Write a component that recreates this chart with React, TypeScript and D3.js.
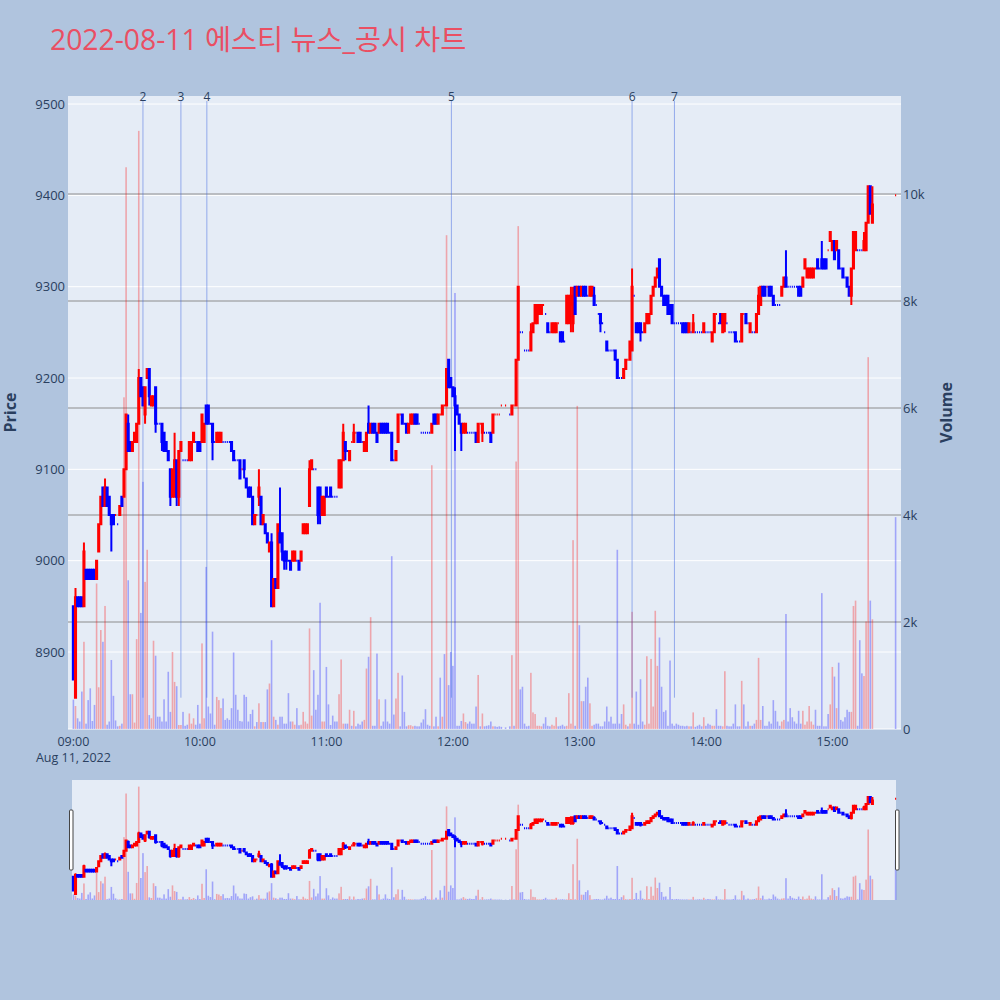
import React, { useMemo } from "react";
import * as d3 from "d3";

// [minute from 09:00, open, high, low, close, volume]
type Bar = [number, number, number, number, number, number];

const bars09: Bar[] = [
  [0,8950,8950,8870,8870,550],[1,8850,8970,8850,8960,430],[2,8960,8960,8950,8950,200],[3,8960,8960,8950,8950,140],
  [4,8960,8960,8950,8950,700],[5,8950,9020,8950,9010,1630],[6,8990,8990,8980,8980,100],[7,8990,8990,8980,8980,540],
  [8,8990,8990,8980,8980,760],[9,8990,8990,8980,8980,150],[10,8990,8990,8980,8980,450],[11,8980,9000,8980,9000,2720],
  [12,9010,9040,9010,9040,780],[13,9040,9070,9040,9070,1850],[14,9080,9080,9060,9060,1630],[15,9060,9090,9060,9080,2300],
  [16,9080,9080,9060,9060,80],[17,9070,9070,9050,9050,140],[18,9050,9050,9010,9040,1290],[19,9050,9050,9040,9040,620],
  [20,9050,9050,9050,9050,160],[21,9040,9040,9040,9040,50],[22,9050,9060,9050,9060,60],[23,9070,9070,9060,9060,100],
  [24,9070,9100,9070,9100,6200],[25,9100,9160,9100,9160,10500],[26,9150,9160,9120,9120,2780],[27,9130,9130,9120,9120,650],
  [28,9120,9130,9120,9130,650],[29,9130,9140,9130,9140,120],[30,9130,9150,9130,9150,1680],[31,9150,9210,9150,9200,11180],
  [32,9200,9200,9180,9180,2170],[33,9190,9190,9170,9170,4620],[34,9160,9190,9150,9190,2750],[35,9200,9210,9200,9210,3350],
  [36,9210,9210,9170,9180,260],[37,9170,9180,9170,9180,200],[38,9170,9180,9170,9180,1650],[39,9190,9190,9140,9150,1370],
  [40,9150,9150,9150,9150,230],[41,9150,9150,9150,9150,230],[42,9150,9150,9120,9130,140],[43,9140,9140,9120,9120,555],
  [44,9130,9130,9120,9120,140],[45,9120,9120,9110,9110,1070],[46,9100,9100,9060,9070,320],[47,9070,9100,9070,9100,1440],
  [48,9070,9140,9070,9110,880],[49,9110,9110,9060,9070,800],[50,9070,9120,9060,9120,75],[51,9120,9130,9120,9130,75],
  [52,9110,9110,9110,9110,320],[53,9110,9110,9110,9110,60],[54,9110,9110,9110,9110,80],[55,9110,9130,9110,9130,290],
  [56,9110,9130,9110,9130,100],[57,9130,9140,9130,9140,200],[58,9130,9130,9130,9130,80],[59,9130,9130,9120,9120,450],
];

const bars10: Bar[] = [
  [60,9130,9130,9120,9120,100],[61,9130,9160,9130,9160,1600],[62,9130,9150,9130,9150,200],[63,9170,9170,9150,9150,3030],
  [64,9170,9170,9150,9150,420],[65,9150,9150,9150,9150,290],[66,9150,9150,9110,9130,1820],[67,9130,9130,9130,9130,80],
  [68,9130,9140,9130,9140,600],[69,9130,9140,9130,9140,540],[70,9130,9140,9130,9140,390],[71,9130,9130,9130,9130,570],
  [72,9130,9130,9130,9130,170],[73,9130,9130,9130,9130,200],[74,9130,9130,9130,9130,170],[75,9130,9130,9120,9120,390],
  [76,9120,9120,9110,9110,1430],[77,9110,9110,9110,9110,640],[78,9110,9110,9110,9110,360],[79,9110,9110,9090,9090,150],
  [80,9100,9100,9100,9100,140],[81,9110,9110,9090,9100,640],[82,9090,9090,9080,9080,600],[83,9080,9080,9070,9070,140],
  [84,9080,9080,9070,9070,280],[85,9070,9070,9040,9040,360],[86,9040,9050,9040,9050,50],[87,9050,9050,9050,9050,130],
  [88,9070,9100,9060,9080,480],[89,9070,9070,9040,9040,130],[90,9040,9050,9040,9050,130],[91,9040,9040,9030,9030,130],
  [92,9030,9030,9020,9020,740],[93,9010,9020,9010,9020,850],[94,9020,9030,8950,8950,1660],[95,8950,8980,8950,8980,230],
  [96,8980,8980,8970,8970,170],[97,8970,9040,8970,9040,80],[98,9030,9080,9020,9020,230],[99,9030,9030,9000,9010,230],
  [100,9010,9010,8990,9000,100],[101,9010,9010,8990,9000,100],[102,9000,9000,9000,9000,670],[103,9000,9000,8990,8990,140],
  [104,9000,9010,9000,9010,140],[105,9000,9010,9000,9010,80],[106,9000,9000,9000,9000,390],[107,9000,9000,8990,8990,70],
  [108,9000,9010,9000,9010,80],[109,9030,9040,9030,9040,320],[110,9030,9040,9030,9040,140],[111,9030,9040,9030,9040,100],
  [112,9060,9110,9060,9100,1880],[113,9100,9110,9100,9110,250],[114,9100,9100,9100,9100,1100],[115,9100,9100,9100,9100,360],
  [116,9080,9080,9040,9050,640],[117,9080,9080,9040,9050,2360],[118,9050,9070,9050,9070,140],[119,9050,9070,9050,9070,140],
];

const bars11: Bar[] = [
  [120,9080,9080,9070,9070,1160],[121,9070,9070,9070,9070,460],[122,9080,9080,9070,9070,75],[123,9070,9070,9070,9070,250],
  [124,9070,9070,9070,9070,140],[125,9070,9070,9070,9070,140],[126,9080,9110,9080,9110,650],[127,9080,9110,9080,9110,1300],
  [128,9110,9150,9110,9140,100],[129,9130,9130,9110,9120,100],[130,9120,9120,9120,9120,100],[131,9110,9120,9110,9120,360],
  [132,9130,9130,9130,9130,60],[133,9130,9150,9130,9140,340],[134,9140,9140,9140,9140,50],[135,9140,9140,9130,9130,100],
  [136,9140,9140,9130,9130,80],[137,9130,9130,9130,9130,140],[138,9120,9130,9120,9130,170],[139,9120,9140,9120,9140,1130],
  [140,9150,9170,9140,9140,1350],[141,9140,9150,9140,9150,2090],[142,9150,9150,9140,9140,60],[143,9150,9150,9140,9140,60],
  [144,9140,9140,9130,9130,1410],[145,9140,9150,9140,9150,555],[146,9150,9150,9140,9140,60],[147,9150,9150,9140,9140,140],
  [148,9150,9150,9140,9140,555],[149,9150,9150,9140,9140,140],[150,9140,9140,9140,9140,100],[151,9140,9140,9110,9110,3230],
  [152,9110,9110,9110,9110,270],[153,9110,9120,9110,9120,570],[154,9130,9160,9130,9160,1050],[155,9160,9160,9160,9160,50],
  [156,9160,9160,9150,9150,1000],[157,9150,9150,9150,9150,320],[158,9150,9150,9140,9140,50],[159,9140,9150,9140,9150,70],
  [160,9150,9160,9150,9160,70],[161,9150,9160,9150,9160,50],[162,9160,9160,9150,9150,60],[163,9160,9160,9150,9150,50],
  [164,9150,9150,9150,9150,50],[165,9140,9140,9140,9140,120],[166,9140,9140,9140,9140,180],[167,9140,9140,9140,9140,370],
  [168,9140,9140,9140,9140,80],[169,9140,9140,9140,9140,60],[170,9140,9150,9140,9150,4930],[171,9160,9160,9150,9150,50],
  [172,9160,9160,9150,9150,230],[173,9150,9160,9150,9160,50],[174,9160,9160,9160,9160,960],[175,9160,9170,9160,9170,230],
  [176,9170,9170,9170,9170,1400],[177,9170,9210,9170,9210,9230],[178,9220,9220,9190,9190,820],[179,9200,9200,9190,9190,1440],
];

const bars12: Bar[] = [
  [180,9190,9190,9180,9180,1180],[181,9180,9190,9120,9170,8150],[182,9170,9170,9160,9160,60],[183,9160,9160,9150,9150,60],
  [184,9150,9150,9120,9140,150],[185,9140,9150,9140,9150,290],[186,9140,9150,9140,9150,130],[187,9140,9140,9140,9140,100],
  [188,9140,9140,9140,9140,140],[189,9140,9140,9140,9140,100],[190,9140,9140,9140,9140,100],[191,9140,9140,9130,9130,420],
  [192,9130,9150,9130,9150,1010],[193,9150,9150,9150,9150,50],[194,9140,9150,9130,9150,290],[195,9140,9140,9140,9140,50],
  [196,9140,9140,9140,9140,60],[197,9140,9140,9140,9140,70],[198,9140,9140,9130,9130,140],[199,9140,9160,9140,9160,50],
  [200,9160,9160,9160,9160,50],[201,9160,9160,9160,9160,40],[202,9160,9160,9160,9160,50],[203,9170,9170,9170,9170,40],
  [205,9170,9170,9170,9170,30],[207,9160,9160,9160,9160,50],[208,9160,9170,9160,9170,1380],[209,9170,9170,9170,9170,60],
  [210,9170,9220,9170,9220,5000],[211,9220,9300,9220,9300,9400],[212,9250,9250,9250,9250,740],[213,9250,9250,9250,9250,790],
  [214,9230,9230,9230,9230,100],[215,9230,9230,9230,9230,50],[216,9230,9230,9230,9230,60],[217,9230,9260,9230,9250,1050],
  [218,9250,9260,9250,9260,310],[219,9260,9280,9260,9280,280],[220,9260,9280,9260,9280,60],[221,9270,9280,9270,9280,60],
  [222,9270,9280,9270,9280,50],[223,9280,9280,9280,9280,100],[224,9270,9270,9270,9270,220],[225,9260,9260,9250,9250,60],
  [226,9250,9250,9250,9250,50],[227,9250,9260,9250,9260,80],[228,9250,9260,9250,9260,60],[229,9250,9260,9250,9260,220],
  [230,9260,9260,9260,9260,50],[231,9250,9250,9240,9240,60],[232,9250,9250,9240,9240,80],[233,9240,9240,9240,9240,50],
  [234,9260,9290,9260,9290,60],[235,9260,9290,9260,9290,670],[236,9280,9300,9250,9290,100],[237,9260,9300,9250,9290,3530],
  [238,9300,9300,9270,9270,60],[239,9290,9300,9290,9300,6040],
];

const bars13: Bar[] = [
  [240,9300,9300,9290,9290,1940],[241,9290,9300,9290,9300,520],[242,9300,9300,9290,9290,520],[243,9300,9300,9290,9290,790],
  [244,9290,9290,9290,9290,960],[245,9290,9300,9290,9300,480],[246,9290,9300,9290,9300,60],[247,9290,9300,9280,9280,80],
  [248,9280,9280,9280,9280,100],[249,9270,9270,9270,9270,100],[250,9270,9270,9250,9260,50],[251,9260,9260,9260,9260,50],
  [252,9250,9250,9250,9250,140],[253,9240,9240,9230,9230,420],[254,9230,9230,9230,9230,140],[255,9230,9230,9230,9230,230],
  [256,9230,9230,9230,9230,100],[257,9230,9230,9220,9220,100],[258,9220,9220,9200,9200,3350],[259,9200,9200,9200,9200,100],
  [260,9200,9200,9200,9200,280],[261,9200,9210,9200,9210,460],[262,9210,9220,9210,9220,80],[263,9220,9220,9220,9220,50],
  [264,9220,9240,9220,9240,100],[265,9230,9320,9230,9300,2190],[266,9290,9290,9290,9290,100],[267,9260,9260,9250,9250,700],
  [268,9260,9260,9250,9250,80],[269,9260,9260,9240,9250,930],[270,9250,9250,9250,9250,140],[271,9250,9260,9250,9260,80],
  [272,9260,9270,9260,9270,1360],[273,9260,9270,9260,9270,100],[274,9270,9290,9270,9290,1310],[275,9290,9300,9290,9300,420],
  [276,9300,9310,9300,9310,2210],[277,9310,9320,9310,9320,1180],[278,9330,9330,9300,9300,1710],[279,9300,9300,9290,9290,790],
  [280,9290,9290,9280,9280,320],[281,9290,9290,9280,9280,350],[282,9290,9290,9270,9270,60],[283,9280,9280,9270,9270,1280],
  [284,9280,9280,9260,9260,100],[285,9260,9260,9260,9260,60],[286,9260,9260,9260,9260,100],[287,9260,9260,9260,9260,80],
  [288,9260,9260,9260,9260,60],[289,9260,9260,9250,9250,60],[290,9260,9260,9250,9250,50],[291,9260,9260,9250,9250,60],
  [292,9250,9260,9250,9260,50],[293,9250,9250,9250,9250,50],[294,9250,9270,9250,9260,310],[295,9250,9250,9250,9250,40],
  [296,9250,9250,9250,9250,60],[297,9250,9250,9250,9250,80],[298,9250,9250,9250,9250,50],[299,9250,9260,9250,9260,220],
];

const bars14: Bar[] = [
  [300,9250,9250,9250,9250,60],[301,9250,9250,9250,9250,100],[302,9250,9250,9250,9250,80],[303,9240,9250,9240,9250,60],
  [304,9250,9270,9250,9270,60],[305,9270,9270,9270,9270,370],[306,9260,9260,9260,9260,60],[307,9270,9270,9260,9260,60],
  [308,9250,9270,9250,9270,50],[309,9260,9270,9250,9270,1080],[310,9260,9260,9260,9260,60],[311,9250,9250,9250,9250,50],
  [312,9250,9250,9250,9250,50],[313,9250,9250,9250,9250,100],[314,9250,9250,9240,9240,460],[315,9240,9240,9240,9240,50],
  [316,9240,9240,9240,9240,50],[317,9240,9270,9240,9270,900],[318,9270,9270,9270,9270,460],[319,9270,9270,9260,9260,50],
  [320,9260,9260,9260,9260,140],[321,9250,9260,9250,9260,60],[322,9250,9250,9250,9250,60],[323,9250,9250,9250,9250,100],
  [324,9250,9270,9250,9270,170],[325,9270,9300,9270,9290,1330],[326,9280,9300,9280,9300,170],[327,9300,9300,9290,9290,430],
  [328,9300,9300,9290,9290,60],[329,9300,9300,9300,9300,60],[330,9300,9300,9290,9290,140],[331,9300,9300,9290,9290,100],
  [332,9290,9290,9280,9280,540],[333,9280,9280,9280,9280,340],[334,9280,9280,9280,9280,140],[335,9280,9280,9280,9280,60],
  [336,9290,9300,9290,9300,140],[337,9300,9310,9300,9310,170],[338,9310,9340,9300,9300,2150],[339,9300,9300,9300,9300,140],
  [340,9300,9300,9300,9300,390],[341,9300,9300,9300,9300,220],[342,9300,9300,9300,9300,140],[343,9300,9300,9300,9300,100],
  [344,9300,9300,9290,9290,340],[345,9300,9300,9290,9290,100],[346,9300,9310,9300,9310,340],[347,9320,9330,9320,9330,80],
  [348,9310,9320,9310,9320,140],[349,9310,9320,9310,9320,430],[350,9310,9320,9310,9320,140],[351,9310,9320,9310,9320,80],
  [352,9320,9320,9320,9320,360],[353,9330,9330,9320,9320,60],[354,9320,9320,9320,9320,60],[355,9330,9350,9320,9320,2540],
  [356,9330,9330,9320,9320,50],[357,9330,9330,9320,9320,50],[358,9340,9340,9340,9340,280],[359,9350,9360,9350,9360,460],
];

const bars15: Bar[] = [
  [360,9340,9350,9340,9350,1160],[361,9350,9350,9330,9330,980],[362,9340,9350,9340,9350,390],[363,9340,9340,9320,9320,1240],
  [364,9320,9320,9320,9320,170],[365,9320,9320,9310,9310,140],[366,9310,9310,9310,9310,220],[367,9310,9310,9300,9300,360],
  [368,9300,9300,9290,9290,320],[369,9290,9320,9280,9320,320],[370,9320,9360,9320,9360,2300],[371,9340,9360,9340,9360,2400],
  [372,9340,9340,9340,9340,60],[373,9340,9340,9340,9340,1660],[374,9340,9340,9340,9340,1040],[375,9340,9360,9340,9350,990],
  [376,9340,9370,9340,9370,2010],[377,9370,9410,9370,9410,6950],[378,9410,9410,9380,9380,2400],[379,9370,9410,9370,9390,2050],
  [390,9400,9400,9400,9400,3960],
];

const priceTicks = [8900, 9000, 9100, 9200, 9300, 9400, 9500];
const volumeTicks = [0, 2000, 4000, 6000, 8000, 10000];
const volumeTickLabels = ["0", "2k", "4k", "6k", "8k", "10k"];
const timeTicks = [0, 60, 120, 180, 240, 300, 360];
const timeTickLabels = ["09:00", "10:00", "11:00", "12:00", "13:00", "14:00", "15:00"];
const eventMinutes = [33, 51, 63.3, 179.3, 265, 285.1];
const eventLabels = ["2", "3", "4", "5", "6", "7"];

const TITLE = "2022-08-11 에스티 뉴스_공시 차트";
const FONT = "'Open Sans', 'Noto Sans CJK KR', sans-serif";
const UP = "#ff0000";
const DOWN = "#0000ff";

export default function App() {
  const allBars = useMemo(() => [...bars09, ...bars10, ...bars11, ...bars12, ...bars13, ...bars14, ...bars15], []);

  // plotly-style direction (doji follows change from previous close)
  const dirs = useMemo(() => {
    let inc = true;
    let prev: number | null = null;
    return allBars.map(([, o, , , c]) => {
      if (c === o) {
        if (prev !== null && c !== prev) inc = c > prev;
      } else inc = c > o;
      prev = c;
      return inc;
    });
  }, [allBars]);

  const PL = 68, PR = 901, PT = 96, PB = 729;
  const x = d3.scaleLinear().domain([-2.56, 392.56]).range([PL, PR]);
  const yP = d3.scaleLinear().domain([8815.7, 9508.8]).range([PB, PT]);
  const yV = d3.scaleLinear().domain([0, 11832]).range([PB, PT]);
  const RS = { l: 72, r: 896, t: 780, b: 900 };
  const yPm = yP.copy().range([RS.b, RS.t]);
  const yVm = yV.copy().range([RS.b, RS.t]);

  const boxW = 1.1;
  const volW = 1.6;

  const candlePath = (m: number, o: number, h: number, l: number, c: number, ys: d3.ScaleLinear<number, number>) => {
    const xc = x(m);
    const yo = ys(o), yc = ys(c), yh = ys(h), yl = ys(l);
    const top = Math.min(yo, yc), bot = Math.max(yo, yc);
    return `M${xc - boxW / 2},${yo}V${yc}H${xc + boxW / 2}V${yo}Z M${xc},${top}V${yh} M${xc},${bot}V${yl}`;
  };

  const volColor = (o: number, c: number) => (c > o ? "rgba(255,0,0,0.3)" : "rgba(0,0,255,0.3)");

  return (
    <div style={{ position: "absolute", left: 0, top: 0 }}>
      <svg width={1000} height={1000} style={{ display: "block", fontFamily: FONT }}>
        <rect x={0} y={0} width={1000} height={1000} fill="#b0c4de" />
        <text x={50} y={50} fontSize={28.3} fill="#ea4f63">{TITLE}</text>

        {/* main plot */}
        <rect x={PL} y={PT} width={PR - PL} height={PB - PT} fill="#e5ecf6" />
        {priceTicks.map((t) => (
          <line key={"pg" + t} x1={PL} x2={PR} y1={yP(t)} y2={yP(t)} stroke="#ffffff" strokeWidth={1} />
        ))}
        {volumeTicks.map((t) => (
          <line key={"vg" + t} x1={PL} x2={PR} y1={yV(t)} y2={yV(t)} stroke={t === 0 ? "#ffffff" : "#8c8c8c"} strokeWidth={1} />
        ))}

        {/* volume */}
        {allBars.map(([m, o, , , c, v]) => (
          <rect key={"v" + m} x={x(m) - volW / 2} y={yV(v)} width={volW} height={PB - yV(v)} fill={volColor(o, c)} />
        ))}

        {/* event lines */}
        {eventMinutes.map((m, i) => (
          <g key={"e" + i}>
            <line x1={x(m)} x2={x(m)} y1={101} y2={yP(8850)} stroke="rgba(65,105,225,0.5)" strokeWidth={1} />
            <text x={x(m)} y={101} fontSize={12} fill="#2a3f5f" textAnchor="middle">{eventLabels[i]}</text>
          </g>
        ))}

        {/* candles */}
        {allBars.map(([m, o, h, l, c], i) => (
          <path key={"c" + m} d={candlePath(m, o, h, l, c, yP)} stroke={dirs[i] ? UP : DOWN} fill={dirs[i] ? UP : DOWN} strokeWidth={2} />
        ))}

        {/* axes labels */}
        {priceTicks.map((t) => (
          <text key={"pt" + t} x={65} y={yP(t)} dy="0.35em" fontSize={13} fill="#2a3f5f" textAnchor="end">{t}</text>
        ))}
        {volumeTicks.map((t, i) => (
          <text key={"vt" + t} x={903} y={yV(t)} dy="0.35em" fontSize={13} fill="#2a3f5f" textAnchor="start">{volumeTickLabels[i]}</text>
        ))}
        {timeTicks.map((t, i) => (
          <text key={"tt" + t} x={x(t)} y={746} fontSize={12.5} fill="#2a3f5f" textAnchor="middle">{timeTickLabels[i]}</text>
        ))}
        <text x={x(0)} y={762} fontSize={12.5} fill="#2a3f5f" textAnchor="middle">Aug 11, 2022</text>
        <text transform={`translate(10,${(PT + PB) / 2}) rotate(-90)`} fontSize={16} fontWeight="bold" fill="#2a3f5f" textAnchor="middle" dy="0.35em">Price</text>
        <text transform={`translate(946,${(PT + PB) / 2}) rotate(-90)`} fontSize={16} fontWeight="bold" fill="#2a3f5f" textAnchor="middle" dy="0.35em">Volume</text>

        {/* range slider */}
        <rect x={RS.l} y={RS.t} width={RS.r - RS.l} height={RS.b - RS.t} fill="#e5ecf6" />
        {allBars.map(([m, o, , , c, v]) => (
          <rect key={"mv" + m} x={x(m) - volW / 2} y={yVm(v)} width={volW} height={RS.b - yVm(v)} fill={volColor(o, c)} />
        ))}
        {allBars.map(([m, o, h, l, c], i) => (
          <path key={"mc" + m} d={candlePath(m, o, h, l, c, yPm)} stroke={dirs[i] ? UP : DOWN} fill={dirs[i] ? UP : DOWN} strokeWidth={2} />
        ))}
        <rect x={69.5} y={810} width={3.5} height={60} rx={1} fill="#ffffff" stroke="#444" strokeWidth={1} />
        <rect x={895.5} y={810} width={3.5} height={60} rx={1} fill="#ffffff" stroke="#444" strokeWidth={1} />
      </svg>
    </div>
  );
}
